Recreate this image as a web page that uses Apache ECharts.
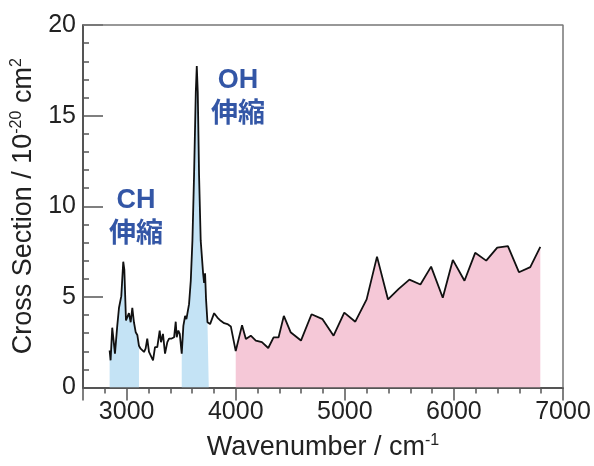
<!DOCTYPE html>
<html>
<head>
<meta charset="utf-8">
<script src="https://cdn.jsdelivr.net/npm/echarts@6/dist/echarts.min.js"></script>
<style>
  html, body { margin: 0; padding: 0; background: #fff; }
  #chart { width: 594px; height: 466px; }
</style>
</head>
<body>
<div id="chart"></div>
<script>
// 波数 (cm-1) と断面積 (10^-20 cm2)
const wavenumber = [
  2844, 2853, 2868, 2893, 2914, 2930, 2951, 2969, 2979, 2994,
  3006, 3021, 3037, 3052, 3067, 3083, 3098, 3113, 3128, 3159,
  3174, 3189, 3205, 3220, 3242, 3260, 3281, 3303, 3315, 3333,
  3352, 3373, 3389, 3413, 3435, 3450, 3459, 3474, 3487, 3505,
  3520, 3536, 3548, 3572, 3588, 3603, 3618, 3634, 3643, 3652,
  3664, 3679, 3701, 3710, 3719, 3728, 3741, 3753, 3765, 3802,
  3832, 3863, 3894, 3924, 3955, 4000, 4058, 4093, 4138, 4184,
  4240, 4298, 4347, 4393, 4441, 4503, 4598, 4695, 4796, 4897,
  4995, 5096, 5200, 5295, 5396, 5494, 5592, 5693, 5791, 5898,
  5990, 6097, 6195, 6296, 6397, 6495, 6596, 6700, 6792
];
const crossSection = [
  2.05, 1.5, 3.3, 1.87, 3.4, 4.4, 5.04, 6.94, 6.5, 3.7,
  3.6, 4.1, 3.6, 4.4, 3.6, 3.05, 2.9, 2.3, 2.14, 1.96,
  2.14, 2.7, 1.96, 2.05, 1.5, 2.23, 2.23, 3.14, 2.5, 2.96,
  1.87, 2.5, 2.7, 2.7, 2.77, 3.63, 2.77, 3.14, 2.96, 1.87,
  3.4, 3.95, 3.77, 4.6, 5.9, 8.1, 11.7, 16.3, 17.73, 16.3,
  11.7, 8.1, 6.3, 5.77, 6.3, 4.86, 3.6, 3.5, 3.5, 4.1,
  3.86, 3.68, 3.55, 3.5, 3.37, 2.01, 3.44, 2.68, 2.86, 2.59,
  2.5, 2.18, 2.77, 2.77, 3.95, 3.05, 2.59, 4.04, 3.77, 2.86,
  4.13, 3.63, 4.86, 7.22, 4.86, 5.44, 5.95, 5.68, 6.67, 4.95,
  7.04, 5.89, 7.43, 7.0, 7.72, 7.8, 6.36, 6.64, 7.76
];

// 塗りつぶし範囲
const chBand = [2844, 3113];
const ohBand = [3505, 3753];
const highBand = [4000, 6792];

// 軸範囲
const xRange = [2600, 7000];
const yRange = [0, 20];

const points = wavenumber.map((w, i) => [w, crossSection[i]]);
const bandData = (band) => points.filter(p => p[0] >= band[0] && p[0] <= band[1]);

const blueFill = '#c4e3f5';
const pinkFill = '#f5c8d7';
const labelBlue = '#3356a6';
const axisGray = '#555';
const boxGray = '#777';
const font = '"Liberation Sans", Arial, sans-serif';

const areaSeries = (band, color) => ({
  type: 'line',
  data: bandData(band),
  symbol: 'none',
  silent: true,
  lineStyle: { width: 0 },
  areaStyle: { color: color, opacity: 1 },
  z: 1
});

const supStyle = { fontFamily: font, fontSize: 16, color: '#222', verticalAlign: 'top', padding: [0, 0, 14, 0] };

const chart = echarts.init(document.getElementById('chart'));

chart.setOption({
  animation: false,
  grid: { left: 83, right: 31, top: 25, bottom: 73 },
  xAxis: {
    type: 'value',
    min: xRange[0], max: xRange[1],
    name: 'Wavenumber / cm{sup|-1}',
    nameLocation: 'middle',
    nameGap: 45,
    nameTextStyle: { fontFamily: font, fontSize: 27, color: '#222', rich: { sup: supStyle } },
    axisLine: { show: true, lineStyle: { color: axisGray, width: 2 } },
    axisTick: { show: true, length: 13, lineStyle: { color: axisGray, width: 1.5 } },
    minorTick: { show: true, splitNumber: 5, length: 6, lineStyle: { color: axisGray, width: 1.5 } },
    axisLabel: {
      showMinLabel: false,
      formatter: (v) => String(v),
      margin: 12, fontFamily: font, fontSize: 25, color: '#222'
    },
    splitLine: { show: false }
  },
  yAxis: {
    type: 'value',
    min: yRange[0], max: yRange[1], interval: 5,
    name: 'Cross Section / 10{sup|-20} cm{sup|2}',
    nameLocation: 'middle',
    nameRotate: 90,
    nameGap: 44,
    nameTextStyle: { fontFamily: font, fontSize: 27, color: '#222', rich: { sup: supStyle } },
    axisLine: { show: true, lineStyle: { color: axisGray, width: 2 } },
    axisTick: { show: true, inside: true, length: 20, lineStyle: { color: axisGray, width: 1.5 } },
    minorTick: { show: true, splitNumber: 5, length: 6, lineStyle: { color: axisGray, width: 1.5 } },
    axisLabel: { margin: 7, fontFamily: font, fontSize: 25, color: '#222' },
    splitLine: { show: false }
  },
  series: [
    areaSeries(chBand, blueFill),
    areaSeries(ohBand, blueFill),
    areaSeries(highBand, pinkFill),
    {
      // 上辺・右辺の枠線
      type: 'line',
      data: [[xRange[0], yRange[1]], [xRange[1], yRange[1]], [xRange[1], yRange[0]]],
      symbol: 'none',
      silent: true,
      clip: false,
      lineStyle: { color: boxGray, width: 1.5 },
      z: 2
    },
    {
      type: 'line',
      data: points,
      symbol: 'none',
      lineStyle: { color: '#111', width: 1.8 },
      z: 3,
      markPoint: {
        symbol: 'circle',
        symbolSize: 0,
        silent: true,
        label: {
          show: true,
          position: 'inside',
          fontFamily: '"Liberation Sans", "Noto Sans CJK JP", sans-serif',
          fontWeight: 'bold',
          fontSize: 27,
          lineHeight: 34,
          color: labelBlue,
          align: 'center',
          formatter: (p) => p.name
        },
        data: [
          { name: 'CH\n伸縮', coord: [3085, 9.4] },
          { name: 'OH\n伸縮', coord: [4020, 16.0] }
        ]
      }
    }
  ]
});
</script>
</body>
</html>
